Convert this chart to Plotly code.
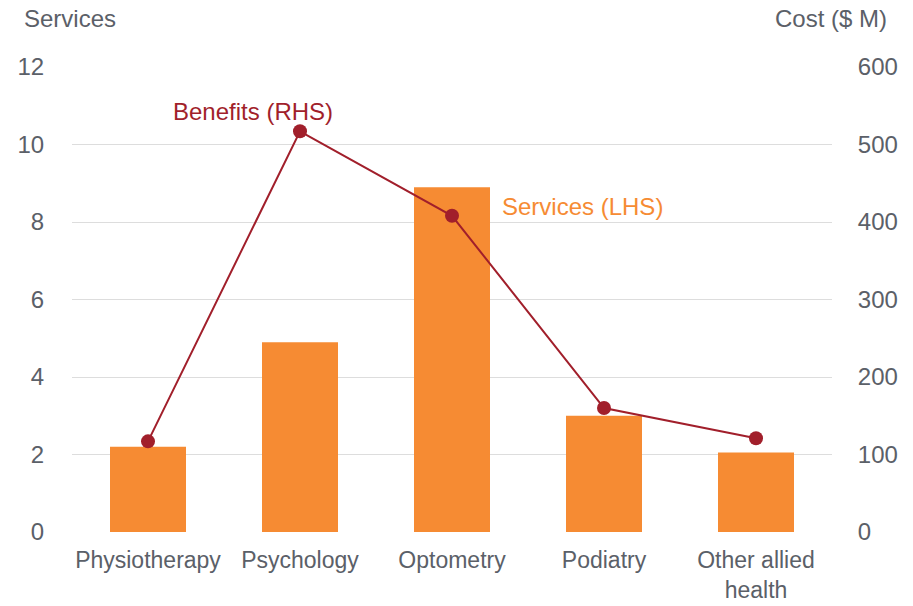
import plotly.graph_objects as go

categories = ["Physiotherapy", "Psychology", "Optometry", "Podiatry", "Other allied<br>health"]
services = [2.2, 4.9, 8.9, 3.0, 2.05]
benefits = [117, 517, 408, 160, 121]
left_ticks = [0, 2, 4, 6, 8, 10, 12]
right_ticks = [0, 100, 200, 300, 400, 500, 600]

ORANGE = "#F68B33"
RED = "#A11F2B"
GRAY = "#5B6068"
FONT = "Liberation Sans, Arial, Helvetica, sans-serif"

fig = go.Figure()
fig.add_trace(go.Bar(x=categories, y=services, marker=dict(color=ORANGE, line=dict(width=0)),
                     yaxis="y", hoverinfo="skip"))
fig.add_trace(go.Scatter(x=categories, y=benefits, mode="lines+markers", yaxis="y2",
                         line=dict(color=RED, width=2), marker=dict(color=RED, size=14),
                         hoverinfo="skip"))

fig.update_layout(
    width=913, height=606,
    margin=dict(l=72, r=81, t=67, b=74, autoexpand=False),
    plot_bgcolor="white", paper_bgcolor="white",
    showlegend=False, bargap=0.5,
    font=dict(family=FONT, color=GRAY, size=24),
    xaxis=dict(tickfont=dict(size=23, color=GRAY), showgrid=False, ticks="outside",
               ticklen=0, ticklabelstandoff=7, showline=False),
    yaxis=dict(range=[0, 12], tickvals=left_ticks, showgrid=True, gridcolor="#DDDDDD",
               gridwidth=1, zeroline=False, tickfont=dict(size=24, color=GRAY),
               ticks="outside", ticklen=0, ticklabelstandoff=22),
    yaxis2=dict(range=[0, 600], tickvals=right_ticks, overlaying="y", side="right",
                showgrid=False, zeroline=False, tickfont=dict(size=24, color=GRAY),
                ticks="outside", ticklen=0, ticklabelstandoff=20),
    annotations=[
        dict(text="Services", xref="paper", yref="paper", x=-0.066, y=1.105, xanchor="left",
             yanchor="middle", showarrow=False, font=dict(size=24, color=GRAY)),
        dict(text="Cost ($ M)", xref="paper", yref="paper", x=1.075, y=1.105, xanchor="right",
             yanchor="middle", showarrow=False, font=dict(size=24, color=GRAY)),
        dict(text="Benefits (RHS)", xref="x", yref="y2", x=0.69, y=543, xanchor="center",
             yanchor="middle", showarrow=False, font=dict(size=24, color=RED)),
        dict(text="Services (LHS)", xref="x", yref="y", x=2.86, y=8.39, xanchor="center",
             yanchor="middle", showarrow=False, font=dict(size=24, color=ORANGE)),
    ],
)

fig.write_html("out.html", config={"displayModeBar": False},
               post_script="document.body.style.margin='0';")
